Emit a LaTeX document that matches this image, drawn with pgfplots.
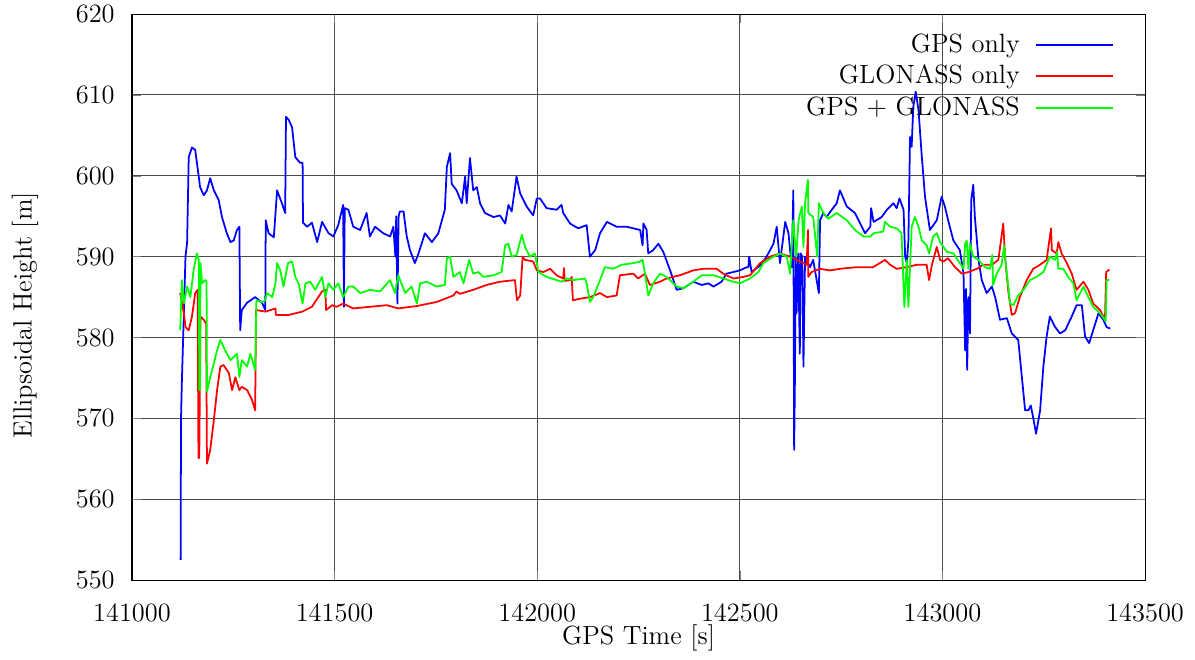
\documentclass[12pt,border=0pt]{standalone}
\usepackage{pgfplots}
\pgfplotsset{compat=1.18}
\usetikzlibrary{calc}
\pgfplotsset{
  layers/withmask/.define layer set={axis background,axis grid,legendmask,axis ticks,axis lines,axis tick labels,pre main,main,axis descriptions,axis foreground}{},
}
\begin{document}
\begin{tikzpicture}
\begin{axis}[
  set layers=withmask,
  scale only axis, width=460.5pt, height=257.3pt,
  xmin=141000, xmax=143500, ymin=550, ymax=620,
  xtick={141000,141500,142000,142500,143000,143500},
  xticklabels={141000,141500,142000,142500,143000,143500},
  ytick={550,560,570,580,590,600,610,620},
  scaled x ticks=false,
  xticklabel style={yshift=-6.3pt},
  yticklabel style={xshift=-3.7pt},
  tick align=inside,
  major tick length=4pt,
  grid=major,
  grid style={black!70, line width=0.45pt},
  axis line style={line width=0.5pt},
  xlabel={GPS Time [s]},
  ylabel={Ellipsoidal Height [m]},
  x label style={at={(axis description cs:0.5,-0.1025)}, anchor=center},
  y label style={at={(axis description cs:-0.1056,0.468)}, anchor=center},
  legend plot pos=right,
  legend cell align=right,
  legend style={at={(axis description cs:0.974,0.982)}, anchor=north east,
    draw=none, fill=none, row sep=0pt, column sep=5pt, inner sep=2pt},
  legend image code/.code={\draw[#1, line width=0.8pt] (0pt,0pt) -- (35pt,0pt);},
  every axis plot/.append style={line width=0.8pt, line join=round, no marks},
]
\addplot[on layer=legendmask, fill=white, draw=none, forget plot] coordinates {(142704.6,606.27) (143463,606.27) (143463,620) (142704.6,620)};
\addplot[color={rgb,255:red,0;green,0;blue,255}] table {
141120 552.5
141121 570
141123 574.4
141128 583
141132 590
141136 591.7
141140 602.3
141148 603.5
141156 603.2
141165 599.8
141168 598.6
141177 597.6
141185 598.2
141193 599.7
141202 598.2
141214 597
141222 594.9
141234 592.9
141243 591.8
141251 592
141259 593.3
141265 593.7
141267 580.9
141271 583.4
141284 584.3
141304 585
141321 584.3
141329 583.4
141330 594.5
141337 592.9
141350 592.4
141358 598.2
141370 596.6
141378 595.4
141380 607.3
141387 606.9
141395 606
141403 602.3
141415 601.6
141421 601.6
141422 594.2
141432 593.7
141444 594.2
141457 591.8
141469 594.3
141485 592.9
141497 592.5
141509 593.9
141521 596.4
141523 583.8
141525 596
141534 595.8
141546 593.7
141563 593.3
141579 595.4
141587 592.5
141600 593.7
141620 592.9
141637 592.5
141645 593.7
141650 590
141652 595
141655 584.2
141658 595
141661 595.6
141670 595.6
141678 592.5
141686 590.8
141698 589.2
141707 590.4
141723 592.9
141740 591.8
141756 592.9
141772 595.8
141777 601.1
141785 602.8
141789 599
141801 598.2
141814 596.6
141822 599.9
141826 596.6
141834 602.2
141842 598.2
141851 598.6
141859 596.6
141871 595.4
141892 594.9
141908 595.1
141921 594.1
141929 596.4
141937 595.6
141949 599.9
141958 597.8
141974 596.2
141990 595.1
141999 597.2
142007 597.2
142023 596
142048 595.8
142060 596.4
142064 595.4
142081 594.1
142101 593.5
142122 593.9
142130 590
142143 590.8
142155 592.9
142172 594.3
142196 593.7
142221 593.7
142254 593.3
142260 591.4
142262 594.1
142270 593.3
142274 590.4
142286 590.8
142299 591.6
142311 590.6
142328 588.3
142344 585.9
142361 586.1
142385 586.9
142406 586.5
142422 586.7
142435 586.3
142455 586.9
142467 587.9
142484 588.1
142500 588.3
142517 588.7
142521 588.7
142523 590
142529 588.1
142550 588.9
142566 590
142583 591.6
142591 593.7
142599 589.2
142612 594.3
142620 592.9
142628 588.7
142632 598.2
142634 566.1
142636 575
142638 590
142640 583
142644 590.4
142648 578
142650 590.4
142654 590
142657 576.4
142661 590
142673 588.7
142681 589.6
142695 585.5
142698 594.5
142706 595.4
142714 594.9
142727 595.8
142739 596.6
142747 598.2
142764 596.2
142784 595.4
142797 594.1
142809 592.9
142822 593.7
142824 596
142830 594.3
142850 594.9
142863 595.8
142879 596.6
142887 596
142894 597.2
142904 595.8
142908 590
142912 589.2
142916 592
142920 604.8
142924 603.6
142928 608.5
142934 610.4
142941 608.1
142949 602.4
142957 597.4
142969 593.3
142986 594.5
142998 597.4
143006 596.2
143014 594.5
143027 592
143043 590.8
143052 587.9
143056 578.4
143058 586
143061 576
143064 585
143068 580.5
143071 597
143076 598.9
143080 594.9
143089 589.6
143097 587.1
143109 585.5
143122 586.3
143130 585
143142 582.2
143159 582.4
143171 580.5
143187 579.7
143196 575.1
143204 571
143212 571
143218 571.6
143225 569.8
143231 568.1
143241 571
143249 576.4
143257 580.1
143265 582.6
143278 581.3
143290 580.5
143303 580.9
143319 582.6
143331 584
143344 584
143352 580.1
143362 579.3
143372 580.9
143385 583
143397 582.2
143405 581.3
143414 581.1
};
\addlegendentry{GPS only}
\addplot[color={rgb,255:red,255;green,0;blue,0}] table {
141119 585.5
141128 583
141132 581.3
141140 580.9
141148 582.6
141156 585.5
141162 585.9
141164 565.1
141166 565.1
141169 582.6
141177 582.2
141183 581.7
141185 564.4
141193 566.1
141202 569.8
141210 573.5
141218 576.4
141226 576.6
141239 575.6
141247 573.5
141255 575.1
141265 573.5
141271 573.9
141284 573.5
141296 572.3
141304 571
141306 583.4
141330 583.2
141354 583.6
141355 582.8
141387 582.8
141420 583.2
141444 583.8
141469 585.7
141477 585.9
141479 583.4
141494 584
141505 583.8
141521 584.2
141546 583.6
141587 583.8
141629 584
141657 583.6
141703 583.9
141752 584.4
141793 585.2
141801 585.7
141809 585.4
141842 585.9
141875 586.5
141908 586.9
141945 587.1
141950 584.6
141958 585.2
141964 590
141970 589.6
141990 589.4
141999 588.3
142015 588.1
142032 588.5
142048 587.7
142064 587.3
142066 588.6
142068 587
142081 587.1
142085 587.5
142088 584.6
142106 584.8
142130 585
142155 585.5
142172 585
142196 585.2
142204 587.7
142237 587.9
142249 587.3
142266 587.9
142278 586.5
142303 586.9
142319 587.3
142352 587.7
142385 588.3
142410 588.5
142443 588.5
142459 587.9
142484 587.3
142509 587.5
142525 587.7
142550 589.2
142575 590
142599 590.4
142624 590
142648 589.4
142665 589
142668 593.3
142669 587.5
142677 588.1
142698 588.5
142722 588.3
142747 588.5
142788 588.7
142829 588.7
142858 589.6
142871 589
142887 588.5
142912 588.7
142937 589
142961 589
142967 587.1
142974 589
142986 591.2
142994 589.6
143002 589.4
143014 589.8
143031 588.7
143048 587.9
143064 588.1
143085 588.5
143101 589
143122 589
143138 589.6
143150 594.1
143155 589.6
143163 585.5
143171 582.8
143179 583
143191 585
143208 587.1
143224 588.5
143241 589
143257 589.6
143268 593.5
143270 590.8
143282 590.4
143286 591.8
143294 590.4
143307 589.2
143319 587.9
143331 585.9
143348 586.9
143360 585.9
143372 584.2
143389 583.4
143401 582.2
143404 588.1
143412 588.4
};
\addlegendentry{GLONASS only}
\addplot[color={rgb,255:red,0;green,255;blue,0}] table {
141119 580.9
141123 587.1
141128 584.2
141136 586.3
141144 585
141152 588.3
141160 590.4
141165 589.6
141166 573.5
141168 573.5
141169 589.2
141173 586.7
141181 587.1
141184 587
141185 573.3
141193 575.1
141202 576.8
141210 578.4
141218 579.7
141230 578.4
141243 577.2
141251 577.6
141259 578
141265 575.1
141271 577.2
141284 576.4
141292 578
141304 576
141307 584.6
141321 584.4
141329 584.6
141333 585.5
141346 585
141354 586.7
141358 589.2
141366 588.3
141374 586.3
141385 589.2
141395 589.4
141403 587.5
141411 586.7
141421 584.2
141428 586.7
141440 586.9
141452 585.9
141469 587.5
141477 585
141485 586.7
141497 585.9
141509 586.7
141521 585
141534 586.3
141546 586.3
141563 585.5
141587 585.9
141612 585.7
141637 587.1
141649 585.5
141657 587.7
141674 585.5
141690 586.3
141703 584.2
141711 586.7
141727 586.9
141752 586.3
141772 586.5
141777 589.8
141785 590
141793 587.5
141809 588.1
141818 586.7
141832 589.6
141842 587.9
141855 588.1
141867 587.5
141892 587.7
141912 588.1
141921 591.4
141929 591.6
141937 590
141949 590.2
141962 592.7
141970 591.2
141982 590
141994 590.4
142003 588.1
142023 587.5
142048 587.1
142060 586.9
142073 587.3
142089 587.1
142118 587.3
142122 586.7
142130 584.4
142138 585
142155 587.1
142167 588.7
142188 588.5
142208 589
142237 589.2
142254 589.4
142260 589.6
142266 587.9
142274 585.2
142286 586.7
142303 587.9
142319 587.5
142344 586.3
142361 586.1
142385 586.9
142406 587.7
142435 587.7
142459 587.3
142484 586.9
142500 586.7
142525 587.3
142546 588.1
142558 589.2
142583 590
142599 590.4
142616 590
142624 587.9
142632 594.5
142639 590
142645 594.5
142653 596.2
142657 591.2
142661 596.6
142668 599.5
142669 595.4
142681 594.9
142691 590
142695 596.6
142706 595.4
142718 594.7
142739 595.4
142764 594.5
142784 593.3
142805 592.5
142822 592.5
142830 592.9
142854 593.1
142858 594.3
142871 593.7
142887 593.5
142899 592.9
142906 583.8
142912 589.6
142916 583.8
142920 588.7
142924 593.7
142932 594.9
142941 593.7
142949 592
142961 591.4
142967 590.4
142977 592.5
142986 592.9
142994 591.8
143011 590.6
143027 590.4
143043 589.2
143052 588.5
143056 591.6
143060 592
143064 588.5
143068 591.6
143076 590
143089 589.6
143105 588.7
143117 588.5
143123 590.2
143125 586.5
143134 587.9
143146 589
143152 591.4
143158 588.3
143167 584.2
143175 584
143187 585.2
143200 585.9
143216 587.1
143232 587.5
143249 588.1
143265 590
143278 589.6
143283 590.6
143286 588.5
143298 588.5
143310 587.5
143323 586.7
143331 584.6
143348 586.3
143360 585
143372 583.8
143389 583
143403 582
143405 587.1
143412 587.1
};
\addlegendentry{GPS + GLONASS}
\end{axis}
\pgfresetboundingbox
\path ($(current axis.south west)+(-60pt,-35.9pt)$) rectangle ($(current axis.north east)+(22.7pt,6.4pt)$);
\end{tikzpicture}
\end{document}
